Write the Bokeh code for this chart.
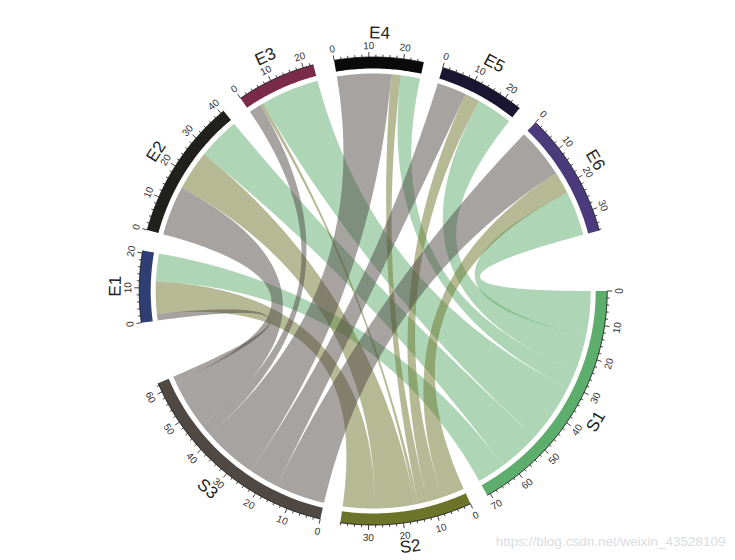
import numpy as np
from bokeh.plotting import figure
from bokeh.models import Range1d
from bokeh.core.properties import value
from bokeh.embed import file_html
from bokeh.resources import INLINE

# ---- data ----
S_NAMES = ["S1", "S2", "S3"]
E_NAMES = ["E1", "E2", "E3", "E4", "E5", "E6"]
S1_LINKS = [8.7, 13.2, 18.2, 6.0, 11.1, 13.8]
S2_LINKS = [10.0, 12.4, 1.0, 3.0, 4.7, 7.0]
S3_LINKS = [2.0, 15.4, 3.8, 16.8, 9.2, 15.5]
S_COLORS = ["#5DAE6D", "#6B7429", "#504843"]
E_COLORS = ["#2F3F73", "#20201C", "#7A2B4A", "#0A0A0A", "#1A1530", "#4B3A7C"]
GAPS = [4.6, 5.0, 15.4, 5.2, 5.2, 5.2, 4.8, 5.2, 15.0]
WATERMARK = "https://blog.csdn.net/weixin_43528109"

# ---- layout ----
CX, CY = 372.7, 290.5
R_BAR_OUT, R_BAR_IN, R_LINK = 234.0, 222.5, 217.5
R_TICKLAB, R_NAME = 246.0, 258.0
FONT = "Liberation Sans"

links = np.array([S1_LINKS, S2_LINKS, S3_LINKS])
names = S_NAMES + E_NAMES
colors = S_COLORS + E_COLORS
totals = list(links.sum(axis=1)) + list(links.sum(axis=0))
unit = (360.0 - sum(GAPS)) / sum(totals)

starts, ends = [], []
a = 0.0
for t, g in zip(totals, GAPS):
    starts.append(a)
    ends.append(a + t * unit)
    a = ends[-1] + g


def pt(theta, r):
    th = np.radians(theta)
    return CX + r * np.cos(th), CY + r * np.sin(th)


def arc(a0, a1, r, n=40):
    th = np.linspace(a0, a1, n)
    return pt(th, r)


def bezier(a0, a1, r, n=80):
    x0, y0 = pt(a0, r)
    x2, y2 = pt(a1, r)
    t = np.linspace(0, 1, n)
    return ((1 - t) ** 2 * x0 + 2 * t * (1 - t) * CX + t ** 2 * x2,
            (1 - t) ** 2 * y0 + 2 * t * (1 - t) * CY + t ** 2 * y2)


p = figure(width=727, height=556, output_backend="svg", toolbar_location=None,
           x_range=Range1d(0, 727), y_range=Range1d(556, 0),
           min_border=0, outline_line_color=None)
p.axis.visible = False
p.grid.visible = False
p.background_fill_color = "white"

# ---- ribbons ----
n_s, n_e = links.shape
e_pos = {}
for j in range(n_e):
    cur = starts[n_s + j]
    for i in [2, 1, 0]:
        e_pos[(i, j)] = (cur, cur + links[i, j] * unit)
        cur += links[i, j] * unit
s_pos = {}
for i in range(n_s):
    cur = starts[i]
    for j in range(n_e - 1, -1, -1):
        s_pos[(i, j)] = (cur, cur + links[i, j] * unit)
        cur += links[i, j] * unit

xs, ys, cs = [], [], []
for i in [0, 1, 2]:
    for j in range(n_e):
        a1, a2 = e_pos[(i, j)]
        b1, b2 = s_pos[(i, j)]
        parts = [arc(a1, a2, R_LINK), bezier(a2, b1, R_LINK),
                 arc(b1, b2, R_LINK), bezier(b2, a1, R_LINK)]
        xs.append(np.concatenate([q[0] for q in parts]))
        ys.append(np.concatenate([q[1] for q in parts]))
        cs.append(S_COLORS[i])
p.patches(xs, ys, fill_color=cs, fill_alpha=0.5, line_color=None)

# ---- sector bars, ticks, labels ----
for k, name in enumerate(names):
    a0, a1 = starts[k], ends[k]
    ox, oy = arc(a0, a1, R_BAR_OUT)
    ix, iy = arc(a1, a0, R_BAR_IN)
    p.patch(np.concatenate([ox, ix]), np.concatenate([oy, iy]),
            fill_color=colors[k], line_color=None)
    p.line(ox, oy, line_color="#111111", line_width=0.8)

    upper = (a0 + a1) / 2 > 180
    tx, ty, lx, ly, lt, la = [], [], [], [], [], []
    for v in np.arange(0, totals[k] + 1e-6, 2):
        th = a0 + v * unit
        major = int(v) % 10 == 0
        x0, y0 = pt(th, R_BAR_OUT)
        x1, y1 = pt(th, R_BAR_OUT + (5.0 if major else 2.5))
        tx.append([x0, x1])
        ty.append([y0, y1])
        if major:
            x2, y2 = pt(th, R_TICKLAB)
            lx.append(x2)
            ly.append(y2)
            lt.append(str(int(v)))
            la.append(np.radians((270 - th) if upper else (90 - th)))
    p.multi_line(tx, ty, line_color="#111111", line_width=0.8)
    p.text(lx, ly, text=lt, angle=la, text_font=value(FONT), text_font_size="10px",
           text_color="#333333", text_align="center", text_baseline="middle")

    mid = (a0 + a1) / 2
    nx, ny = pt(mid, R_NAME)
    ang = np.radians((270 - mid) if upper else (90 - mid))
    p.text([nx], [ny], text=[name], angle=[ang], text_font=value(FONT),
           text_font_size="17px", text_color="#222222",
           text_align="center", text_baseline="middle")

p.text([725], [541], text=[WATERMARK], text_font=value(FONT), text_font_size="13.5px",
       text_color="#d9dde0", text_align="right", text_baseline="middle")

open("out.html", "w").write(file_html(p, INLINE))
